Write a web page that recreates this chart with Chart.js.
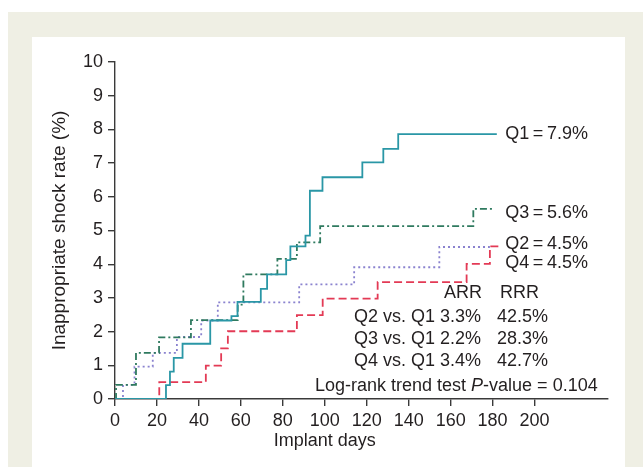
<!DOCTYPE html>
<html>
<head>
<meta charset="utf-8">
<script src="https://cdn.jsdelivr.net/npm/chart.js@4"></script>
<style>
    body { margin: 0; background: #ffffff; }
    #frame { position: absolute; left: 8px; top: 12px; width: 635px; height: 455px; background: #efefe4; }
    #panel { position: absolute; left: 32px; top: 37px; width: 593px; height: 430px; background: #ffffff; }
</style>
</head>
<body>
<div id="frame"></div>
<div id="panel"><canvas id="myChart" width="593" height="430"></canvas></div>
<script>
// step curves: days, cumulative rate (%)
const q1Days = [0, 24.3, 26.2, 28.0, 32.2, 45.4, 55.5, 58.4, 69.5, 72.5, 81.6, 83.6, 90.8, 92.9, 98.9, 117.9, 127.9, 135.0, 182];
const q1Rate = [0, 0.41, 0.81, 1.22, 1.64, 2.33, 2.46, 2.88, 3.27, 3.70, 4.12, 4.53, 4.85, 6.18, 6.58, 7.02, 7.42, 7.86, 7.86];

const q3Days = [0, 0.5, 10, 21, 36.2, 58.5, 61.2, 77.4, 86.7, 97.8, 170.8, 181];
const q3Rate = [0, 0.42, 1.37, 1.83, 2.34, 2.80, 3.70, 4.16, 4.65, 5.13, 5.64, 5.64];

const q2Days = [0, 3.8, 9.3, 18, 29.5, 41.1, 49, 87.8, 114, 154.6, 178.7];
const q2Rate = [0, 0.42, 0.96, 1.37, 1.84, 2.33, 2.87, 3.40, 3.91, 4.51, 4.51];

const q4Days = [0, 21.1, 43.3, 50.6, 53.8, 86.7, 99, 125.2, 167.6, 178.7, 183];
const q4Rate = [0, 0.50, 0.99, 1.50, 2.01, 2.49, 2.98, 3.47, 4.01, 4.53, 4.53];

const xTicks = [0, 20, 40, 60, 80, 100, 120, 140, 160, 180, 200];

// end labels: text, y value where it sits
const endLabels = [
    ['Q1\u2009=\u20097.9%', 7.86],
    ['Q3\u2009=\u20095.6%', 5.51],
    ['Q2\u2009=\u20094.5%', 4.61],
    ['Q4\u2009=\u20094.5%', 4.03]
];
const tableHead = ['ARR', 'RRR'];
const tableRows = [
    ['Q2 vs. Q1 3.3%', '42.5%'],
    ['Q3 vs. Q1 2.2%', '28.3%'],
    ['Q4 vs. Q1 3.4%', '42.7%']
];

const FONT = '"Liberation Sans", Arial, Helvetica, sans-serif';
const INK = '#231f20';

function pts(xs, ys) {
    return xs.map((x, i) => ({ x: x, y: ys[i] }));
}

const textPlugin = {
    id: 'texts',
    afterDraw(chart) {
        const ctx = chart.ctx;
        const xs = chart.scales.x;
        const ys = chart.scales.y;
        const area = chart.chartArea;
        ctx.save();
        ctx.fillStyle = INK;
        ctx.font = '18px ' + FONT;
        ctx.textBaseline = 'middle';
        ctx.textAlign = 'left';

        // labels at the end of each curve
        const lx = xs.getPixelForValue(186);
        endLabels.forEach(l => ctx.fillText(l[0], lx, ys.getPixelForValue(l[1])));

        // ARR / RRR table
        ctx.fillText(tableHead[0], area.left + 329, area.top + 231);
        ctx.fillText(tableHead[1], area.left + 385, area.top + 231);
        tableRows.forEach((r, i) => {
            const y = area.top + 255 + i * 22;
            ctx.fillText(r[0], area.left + 239, y);
            ctx.fillText(r[1], area.left + 382, y);
        });

        // log-rank line with italic P
        let x = area.left + 200;
        const y = area.top + 324;
        const a = 'Log-rank trend test ';
        ctx.fillText(a, x, y);
        x += ctx.measureText(a).width;
        ctx.font = 'italic 18px ' + FONT;
        ctx.fillText('P', x, y);
        x += ctx.measureText('P').width;
        ctx.font = '18px ' + FONT;
        ctx.fillText('-value = 0.104', x, y);

        // x-axis title, centred under the 0-200 ticks
        ctx.textAlign = 'center';
        ctx.fillText('Implant days', xs.getPixelForValue(100), area.bottom + 42);
        ctx.restore();
    }
};

const axisStyle = {
    grid: { drawOnChartArea: false, drawTicks: true, tickLength: 7, color: '#3a3a3a', lineWidth: 1.4 },
    border: { color: '#3a3a3a', width: 1.4 }
};

new Chart(document.getElementById('myChart'), {
    type: 'line',
    data: {
        datasets: [
            { label: 'Q1', data: pts(q1Days, q1Rate), borderColor: '#2a97a6', borderWidth: 1.8 },
            { label: 'Q3', data: pts(q3Days, q3Rate), borderColor: '#2f7a5f', borderWidth: 1.8, borderDash: [7, 3, 2, 3] },
            { label: 'Q2', data: pts(q2Days, q2Rate), borderColor: '#8a82cf', borderWidth: 1.8, borderDash: [2, 3] },
            { label: 'Q4', data: pts(q4Days, q4Rate), borderColor: '#e33a55', borderWidth: 1.8, borderDash: [8, 4] }
        ]
    },
    options: {
        responsive: false,
        animation: false,
        devicePixelRatio: 1,
        elements: { point: { radius: 0 }, line: { stepped: 'before', fill: false } },
        layout: { padding: { top: 25, right: 17, left: 0, bottom: 0 } },
        plugins: { legend: { display: false }, tooltip: { enabled: false } },
        scales: {
            x: {
                type: 'linear',
                min: 0,
                max: 235,
                ...axisStyle,
                afterBuildTicks: s => { s.ticks = xTicks.map(v => ({ value: v })); },
                afterFit: s => { s.height = 68; },
                ticks: { color: INK, font: { size: 18, family: FONT }, padding: 4, maxRotation: 0 }
            },
            y: {
                min: 0,
                max: 10,
                ...axisStyle,
                afterFit: s => { s.width = 83; },
                ticks: { stepSize: 1, color: INK, font: { size: 18, family: FONT }, padding: 5 },
                title: {
                    display: true,
                    text: 'Inappropriate shock rate (%)',
                    color: INK,
                    font: { size: 19, family: FONT },
                    padding: { top: 16, bottom: 0 }
                }
            }
        }
    },
    plugins: [textPlugin]
});
</script>
</body>
</html>
